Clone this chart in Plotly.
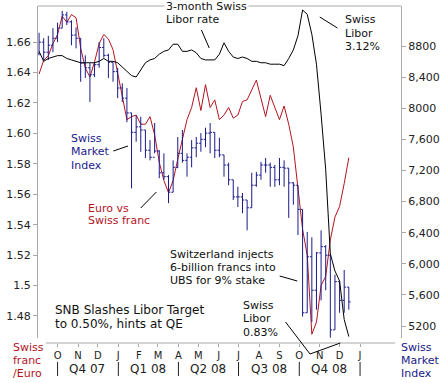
import plotly.graph_objects as go
import pandas as pd

# ---------------- data ----------------
weeks = pd.date_range("2007-09-03", periods=68, freq="7D")

smi_open = [8700, 8850, 8720, 8810, 8900, 9030, 9200, 9110, 8940, 8900, 8580, 8520, 8430, 8560, 8780, 8680,
            8590, 8470, 8260, 8130, 7940, 7690, 7760, 7720, 7460, 7370, 7450, 7170, 7120, 6920, 7240, 7420,
            7330, 7370, 7490, 7550, 7600, 7680, 7690, 7460, 7400, 7270, 7080, 6860, 6860, 6820, 6720, 7010,
            7140, 7270, 7270, 7240, 7080, 7240, 7230, 7040, 7010, 6700, 5370, 6090, 5660, 6140, 6220, 6110,
            5150, 5770, 5530, 5700]
smi_high = [8970, 8900, 8930, 9030, 9100, 9250, 9240, 9130, 9040, 8900, 8680, 8580, 8590, 8850, 8900, 8700,
            8590, 8520, 8320, 8260, 7940, 7910, 7890, 7720, 7590, 7810, 7460, 7420, 7140, 7330, 7630, 7720,
            7420, 7590, 7630, 7680, 7750, 7810, 7690, 7620, 7400, 7300, 7080, 6990, 6910, 6820, 7170, 7180,
            7310, 7360, 7300, 7270, 7360, 7330, 7230, 7050, 7010, 6700, 6410, 6340, 6150, 6430, 6240, 6110,
            5860, 5770, 5920, 5700]
smi_low = [8680, 8620, 8620, 8720, 8850, 9030, 9070, 8810, 8770, 8340, 8390, 8080, 8400, 8520, 8650, 8390,
           8340, 8130, 8080, 7820, 6970, 7570, 7440, 7360, 7330, 7420, 7100, 7080, 6780, 6920, 7230, 7300,
           7120, 7240, 7370, 7440, 7500, 7420, 7360, 7370, 7120, 7010, 6820, 6730, 6650, 6430, 6720, 6990,
           7080, 7170, 6990, 6990, 7010, 6990, 6590, 6760, 6370, 5320, 5370, 5250, 5410, 5530, 5660, 5050,
           5150, 5370, 5370, 5410]
smi_close = [8850, 8720, 8810, 8900, 9030, 9200, 9110, 8940, 8900, 8580, 8520, 8430, 8560, 8780, 8680, 8590,
             8470, 8260, 8130, 7940, 7690, 7760, 7720, 7460, 7370, 7450, 7170, 7120, 6920, 7240, 7420, 7330,
             7370, 7490, 7550, 7600, 7680, 7690, 7460, 7400, 7270, 7080, 6860, 6860, 6820, 6720, 7010, 7140,
             7270, 7270, 7240, 7080, 7240, 7230, 7040, 7010, 6700, 5370, 6090, 5660, 6140, 6220, 6110, 5150,
             5770, 5530, 5700, 5510]

eur_chf = [1.639, 1.648, 1.651, 1.659, 1.665, 1.677, 1.673, 1.678, 1.676, 1.656, 1.643, 1.637, 1.647, 1.659,
           1.665, 1.662, 1.655, 1.640, 1.624, 1.609, 1.611, 1.612, 1.606, 1.606, 1.611, 1.599, 1.581, 1.569,
           1.561, 1.569, 1.583, 1.596, 1.609, 1.617, 1.630, 1.615, 1.632, 1.617, 1.622, 1.609, 1.612, 1.617,
           1.610, 1.612, 1.621, 1.622, 1.629, 1.635, 1.623, 1.611, 1.625, 1.617, 1.609, 1.618, 1.606, 1.591,
           1.566, 1.537, 1.520, 1.468, 1.476, 1.500, 1.506, 1.530, 1.545, 1.552, 1.567, 1.584]

libor_3m = [2.83, 2.76, 2.78, 2.79, 2.80, 2.80, 2.78, 2.77, 2.76, 2.75, 2.75, 2.75, 2.75, 2.76, 2.78, 2.76,
            2.76, 2.75, 2.72, 2.69, 2.66, 2.65, 2.70, 2.75, 2.77, 2.78, 2.81, 2.83, 2.84, 2.88, 2.88, 2.83,
            2.83, 2.84, 2.82, 2.78, 2.77, 2.77, 2.77, 2.81, 2.89, 2.83, 2.79, 2.78, 2.79, 2.78, 2.76, 2.76,
            2.75, 2.75, 2.74, 2.74, 2.74, 2.73, 2.78, 2.84, 2.94, 3.12, 3.09, 2.95, 2.74, 2.39, 2.00, 1.41,
            1.29, 1.22, 0.95, 0.83]

month_ticks = pd.date_range("2007-10-01", "2009-01-01", freq="MS")
month_labels = ["O", "N", "D", "J", "F", "M", "A", "M", "J", "J", "A", "S", "O", "N", "D", "J"]
quarter_labels = ["Q4 07", "Q1 08", "Q2 08", "Q3 08", "Q4 08"]
quarter_starts = pd.date_range("2007-10-01", "2009-01-01", freq="QS")

left_vals = [1.48, 1.50, 1.52, 1.54, 1.56, 1.58, 1.60, 1.62, 1.64, 1.66]
left_text = ["1.48", "1.5", "1.52", "1.54", "1.56", "1.58", "1.60", "1.62", "1.64", "1.66"]
right_vals = [5200, 5600, 6000, 6400, 6800, 7200, 7600, 8000, 8400, 8800]
right_text = ["5200", "5,600", "6,000", "6,400", "6,800", "7,200", "7,600", "8000", "8,400", "8800"]

# ---------------- styling ----------------
FONT = "DejaVu Sans"
RED = "#b3141f"
NAVY = "#1a1a8a"
GRID = "#a8a8a8"
W, H = 446, 383
L, R, T, B = 35, 406, 6, 343
PW, PH = R - L, B - T


def px(xp):
    return (xp - L) / PW


def py(yp):
    return (B - yp) / PH


fig = go.Figure()
fig.add_trace(go.Ohlc(x=weeks, open=smi_open, high=smi_high, low=smi_low, close=smi_close,
                      yaxis="y2", tickwidth=0.4,
                      increasing=dict(line=dict(color=NAVY, width=1)),
                      decreasing=dict(line=dict(color=NAVY, width=1)),
                      showlegend=False, hoverinfo="skip"))
fig.add_trace(go.Scatter(x=weeks, y=eur_chf, mode="lines", line=dict(color=RED, width=1),
                         yaxis="y", showlegend=False, hoverinfo="skip"))
fig.add_trace(go.Scatter(x=weeks, y=libor_3m, mode="lines", line=dict(color="black", width=1),
                         yaxis="y3", showlegend=False, hoverinfo="skip"))

ydom = [py(338), 1]
fig.update_layout(
    width=W, height=H,
    margin=dict(l=L, r=W - R, t=T, b=H - B, pad=0),
    paper_bgcolor="white", plot_bgcolor="white",
    showlegend=False,
    font=dict(family=FONT, size=11, color="#222"),
    xaxis=dict(type="date", range=["2007-09-01 09:00", "2009-03-04"], anchor="free", position=0,
               showgrid=False, zeroline=False, showline=False,
               tickvals=month_ticks, ticktext=month_labels, ticks="outside", ticklen=3,
               tickcolor=GRID, tickfont=dict(family=FONT, size=10, color="#222"),
               rangeslider=dict(visible=False)),
    yaxis=dict(domain=ydom, range=[1.46554, 1.68368], showgrid=False, zeroline=False,
               showline=True, linecolor=GRID, linewidth=1, ticks="outside", ticklen=4,
               tickcolor=GRID, tickvals=left_vals, ticktext=left_text,
               tickfont=dict(family=FONT, size=11, color="#222")),
    yaxis2=dict(overlaying="y", side="right", range=[5045.7, 9314.3], showgrid=False,
                zeroline=False, showline=True, linecolor=GRID, linewidth=1, ticks="outside",
                ticklen=4, tickcolor=GRID, tickvals=right_vals, ticktext=right_text,
                tickfont=dict(family=FONT, size=11, color="#222")),
    yaxis3=dict(overlaying="y", range=[0.82, 3.148], visible=False),
)

shapes = []
# top frame line and x axis line
shapes.append(dict(type="line", xref="paper", yref="paper", x0=0, x1=1, y0=1, y1=1,
                   line=dict(color=GRID, width=1)))
shapes.append(dict(type="line", xref="paper", yref="paper", x0=px(43), x1=px(400), y0=0, y1=0,
                   line=dict(color=GRID, width=1)))
# quarter separators
for d in quarter_starts:
    shapes.append(dict(type="line", xref="x", yref="paper", x0=d, x1=d, y0=py(362), y1=py(376),
                       line=dict(color="#222", width=1)))
# callout lines
callouts = [((202, 30), (210, 48)), ((323, 17), (341, 28)), ((112, 151), (127, 146)),
            ((140, 208), (156, 192)), ((282, 276), (300, 281)), ((288, 322), (313, 354)),
            ((313, 354), (344, 343))]
for (a, b) in callouts:
    shapes.append(dict(type="line", xref="paper", yref="paper", x0=px(a[0]), y0=py(a[1]),
                       x1=px(b[0]), y1=py(b[1]), line=dict(color="black", width=1)))

ann = []


def label(lines, left, y0, step, color, size=11, bg=None):
    for k, t in enumerate(lines):
        d = dict(text=t, x=px(left), y=py(y0 + k * step), xref="paper", yref="paper",
                 xanchor="left", yanchor="middle", showarrow=False,
                 font=dict(family=FONT, size=size, color=color))
        if bg:
            d["bgcolor"] = bg
        ann.append(d)


label(["3-month Swiss", "Libor rate"], 164, 7, 13, "#111", bg="white")
label(["Swiss", "Libor", "3.12%"], 347, 20, 13, "#111")
label(["Swiss", "Market", "Index"], 67, 138, 13.5, NAVY)
label(["Euro vs", "Swiss franc"], 84, 208, 13, RED)
label(["Switzerland injects", "6-billion francs into", "UBS for 9% stake"], 168, 254, 13, "#111")
label(["SNB Slashes Libor Target", "to 0.50%, hints at QE"], 50, 310, 13.5, "#111", size=12)
label(["Swiss", "Libor", "0.83%"], 242, 305, 13.5, "#111")
label(["Swiss", "franc", "/Euro"], 7, 347, 13, RED)
label(["Swiss", "Market", "Index"], 404, 347, 13, NAVY)

q_mid = [pd.Timestamp("2007-11-15"), pd.Timestamp("2008-02-15"), pd.Timestamp("2008-05-16"),
         pd.Timestamp("2008-08-16"), pd.Timestamp("2008-11-15")]
for d, t in zip(q_mid, quarter_labels):
    ann.append(dict(text=t, x=d, y=py(369), xref="x", yref="paper", xanchor="center",
                    yanchor="middle", showarrow=False, font=dict(family=FONT, size=12, color="#222")))

fig.update_layout(shapes=shapes, annotations=ann)
fig.write_html("out.html", config={"displayModeBar": False},
               post_script="document.body.style.margin='0px';")
